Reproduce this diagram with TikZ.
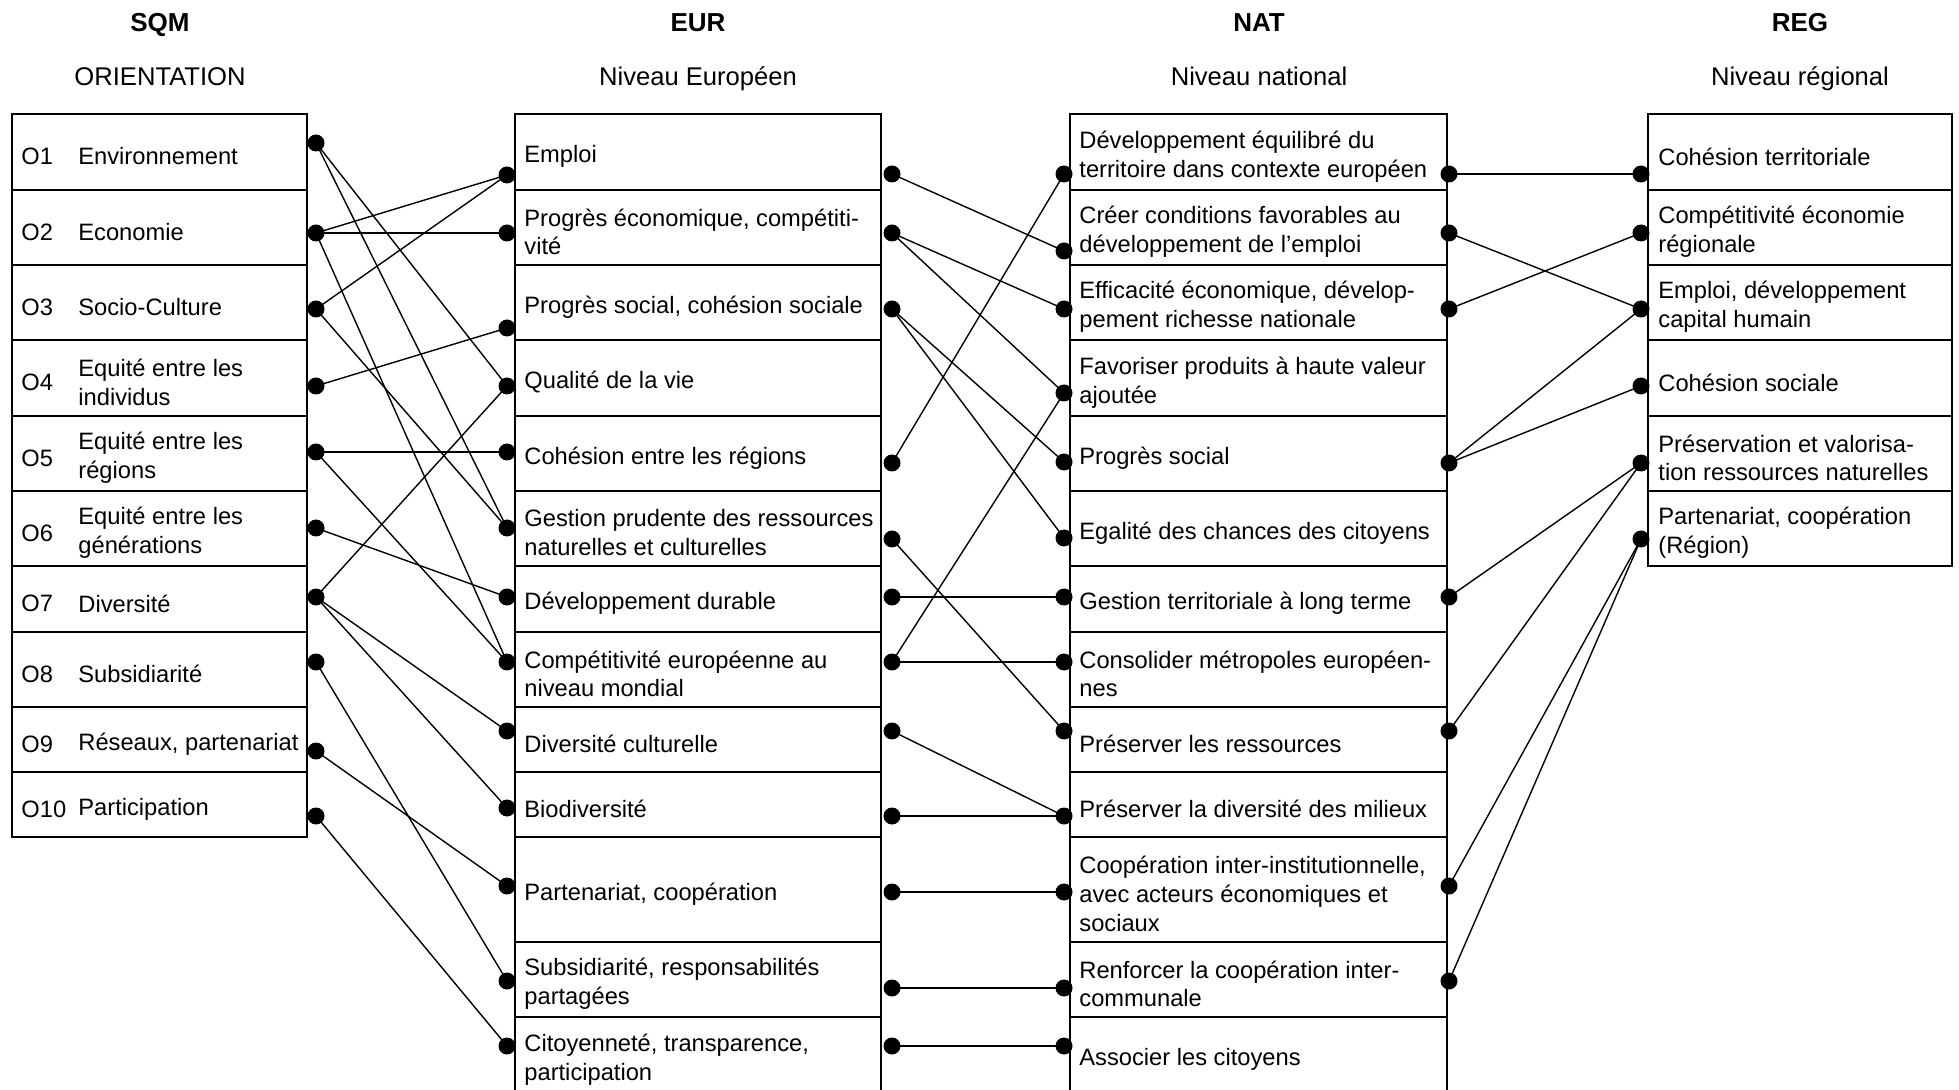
\documentclass[tikz,border=0pt]{standalone}
\usepackage{fontspec}
\setmainfont{Liberation Sans}
\begin{document}
\begin{tikzpicture}[x=0.5pt,y=-0.5pt]
\tikzset{
  cell/.style={draw, line width=0.9pt},
  lbl/.style={anchor=west, align=left, inner sep=0pt, yshift=-2.2pt, font=\fontsize{11.85}{14.4}\selectfont},
  dot/.style={circle, fill=black, inner sep=0pt, minimum size=8.5pt},
  link/.style={line width=0.7pt},
  head/.style={font=\fontsize{13}{15}\selectfont\bfseries, inner sep=0pt, anchor=base},
  subhead/.style={font=\fontsize{12.8}{15}\selectfont, inner sep=0pt, anchor=base}
}
\useasboundingbox (0,0) rectangle (1959,1090);
\fill[white] (0,0) rectangle (1959,1090);
\clip (0,0) rectangle (1959,1090);

% headers
\node[head] (hsqm) at (160,32) {SQM};
\node[head] (heur) at (698,32) {EUR};
\node[head] (hnat) at (1259,32) {NAT};
\node[head] (hreg) at (1800,32) {REG};
\node[subhead] (ssqm) at (160,86) {ORIENTATION};
\node[subhead] (seur) at (698,86) {Niveau Européen};
\node[subhead] (snat) at (1259,86) {Niveau national};
\node[subhead] (sreg) at (1800,86) {Niveau régional};

% boxes
\foreach \t/\b in {114/190,190/265,265/340,340/416,416/491,491/566,566/632,632/707,707/772,772/837}
  \draw[cell] (12,\t) rectangle (307,\b);
\foreach \t/\b in {114/190,190/265,265/340,340/416,416/491,491/566,566/632,632/707,707/772,772/837,837/942,942/1017,1017/1100}
  {\draw[cell] (515,\t) rectangle (881,\b);
   \draw[cell] (1070,\t) rectangle (1447,\b);}
\foreach \t/\b in {114/190,190/265,265/340,340/416,416/491,491/566}
  \draw[cell] (1648,\t) rectangle (1952,\b);

% SQM texts
\foreach \n/\c/\txt in {1/152/Environnement,2/227.5/Economie,3/302.5/Socio-Culture,4/378/{Equité entre les\\individus},5/453.5/{Equité entre les\\régions},6/528.5/{Equité entre les\\générations},7/599/Diversité,8/669.5/Subsidiarité,9/739.5/{Réseaux, partenariat},10/804.5/Participation}
  {\node[lbl] (oc\n) at (21,\c) {O\n};
   \node[lbl] (ot\n) at (78,\c) {\txt};}

% EUR texts
\node[lbl] (et1) at (524,152) {Emploi};
\node[lbl] (et2) at (524,227.5) {Progrès économique, compétiti-\\vité};
\node[lbl] (et3) at (524,302.5) {Progrès social, cohésion sociale};
\node[lbl] (et4) at (524,378) {Qualité de la vie};
\node[lbl] (et5) at (524,453.5) {Cohésion entre les régions};
\node[lbl] (et6) at (524,528.5) {Gestion prudente des ressources\\naturelles et culturelles};
\node[lbl] (et7) at (524,599) {Développement durable};
\node[lbl] (et8) at (524,669.5) {Compétitivité européenne au\\niveau mondial};
\node[lbl] (et9) at (524,739.5) {Diversité culturelle};
\node[lbl] (et10) at (524,804.5) {Biodiversité};
\node[lbl] (et11) at (524,889.5) {Partenariat, coopération};
\node[lbl] (et12) at (524,979.5) {Subsidiarité, responsabilités\\partagées};
\node[lbl] (et13) at (524,1055) {Citoyenneté, transparence,\\participation};

% NAT texts
\node[lbl] (nt1) at (1079,152) {Développement équilibré du\\territoire dans contexte européen};
\node[lbl] (nt2) at (1079,227.5) {Créer conditions favorables au\\développement de l’emploi};
\node[lbl] (nt3) at (1079,302.5) {Efficacité économique, dévelop-\\pement richesse nationale};
\node[lbl] (nt4) at (1079,378) {Favoriser produits à haute valeur\\ajoutée};
\node[lbl] (nt5) at (1079,453.5) {Progrès social};
\node[lbl] (nt6) at (1079,528.5) {Egalité des chances des citoyens};
\node[lbl] (nt7) at (1079,599) {Gestion territoriale à long terme};
\node[lbl] (nt8) at (1079,669.5) {Consolider métropoles européen-\\nes};
\node[lbl] (nt9) at (1079,739.5) {Préserver les ressources};
\node[lbl] (nt10) at (1079,804.5) {Préserver la diversité des milieux};
\node[lbl] (nt11) at (1079,889.5) {Coopération inter-institutionnelle,\\avec acteurs économiques et\\sociaux};
\node[lbl] (nt12) at (1079,979.5) {Renforcer la coopération inter-\\communale};
\node[lbl] (nt13) at (1079,1055) {Associer les citoyens};

% REG texts
\node[lbl] (rt1) at (1658,152) {Cohésion territoriale};
\node[lbl] (rt2) at (1658,227.5) {Compétitivité économie\\régionale};
\node[lbl] (rt3) at (1658,302.5) {Emploi, développement\\capital humain};
\node[lbl] (rt4) at (1658,378) {Cohésion sociale};
\node[lbl] (rt5) at (1658,453.5) {Préservation et valorisa-\\tion ressources naturelles};
\node[lbl] (rt6) at (1658,528.5) {Partenariat, coopération\\(Région)};

% dots
\foreach \n/\y in {1/143,2/233,3/309,4/386,5/452,6/528,7/597,8/662,9/751,10/816}
  \node[dot] (s\n) at (316,\y) {};
\foreach \n/\y in {1/175,2/233,3/328,4/386,5/452,6/528,7/597,8/662,9/731,10/808,11/886,12/981,13/1046}
  \node[dot] (el\n) at (507,\y) {};
\foreach \n/\y in {1/174,2/233,3/309,5/463,6/539,7/597,8/662,9/731,10/816,11/892,12/988,13/1046}
  \node[dot] (er\n) at (892,\y) {};
\foreach \n/\y in {1/174,2/251,3/309,4/393,5/462,6/538,7/597,8/662,9/731,10/816,11/892,12/988,13/1046}
  \node[dot] (nl\n) at (1064,\y) {};
\foreach \n/\y in {1/174,2/233,3/309,5/463,7/597,9/731,11/886,12/981}
  \node[dot] (nr\n) at (1449,\y) {};
\foreach \n/\y in {1/174,2/233,3/309,4/386,5/463,6/539}
  \node[dot] (g\n) at (1641,\y) {};

% links SQM -> EUR
\foreach \a/\b in {1/4,1/6,2/1,2/2,2/8,3/1,3/6,4/3,5/5,5/8,6/7,7/4,7/9,7/10,8/12,9/11,10/13}
  \draw[link] (s\a.center) -- (el\b.center);
% links EUR -> NAT
\foreach \a/\b in {1/2,2/3,2/4,3/5,3/6,5/1,6/9,7/7,8/8,8/4,9/10,10/10,11/11,12/12,13/13}
  \draw[link] (er\a.center) -- (nl\b.center);
% links NAT -> REG
\foreach \a/\b in {1/1,2/3,3/2,5/3,5/4,7/5,9/5,11/6,12/6}
  \draw[link] (nr\a.center) -- (g\b.center);
\end{tikzpicture}
\end{document}
